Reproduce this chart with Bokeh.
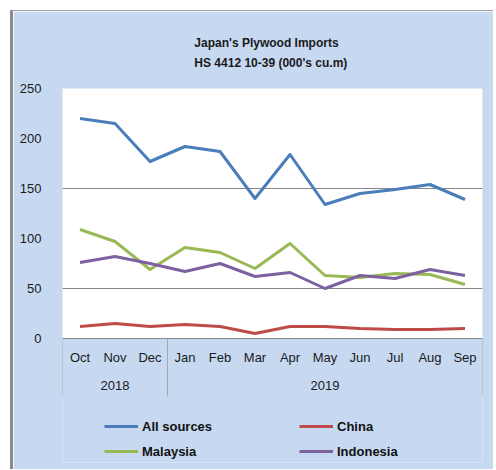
from bokeh.plotting import figure
from bokeh.models import (Range1d, FixedTicker, BoxAnnotation, Legend, LegendItem,
                          ColumnDataSource)
from bokeh.core.properties import value
from bokeh.embed import file_html
from bokeh.resources import INLINE

# ---- data ----
months = ["Oct", "Nov", "Dec", "Jan", "Feb", "Mar", "Apr", "May", "Jun", "Jul", "Aug", "Sep"]
years = ["2018"] * 3 + ["2019"] * 9
all_sources = [220, 215, 177, 192, 187, 140, 184, 134, 145, 149, 154, 139]
china = [12, 15, 12, 14, 12, 5, 12, 12, 10, 9, 9, 10]
malaysia = [109, 97, 69, 91, 86, 70, 95, 63, 61, 65, 64, 54]
indonesia = [76, 82, 75, 67, 75, 62, 66, 50, 63, 60, 69, 63]
y_ticks = [0, 50, 100, 150, 200, 250]
grid_ticks = [0, 50, 150, 250]

title_text = "Japan's Plywood Imports\nHS 4412 10-39  (000's cu.m)"

# ---- styles ----
BG = "#C6D9F1"
FONT = "Liberation Sans"
MONTH_Y = -19
YEAR_Y = -47
SEP_BOTTOM = -58

x = [i + 0.5 for i in range(len(months))]
src = ColumnDataSource(dict(x=x, months=months, all_sources=all_sources, china=china,
                            malaysia=malaysia, indonesia=indonesia))

p = figure(width=483, height=459, output_backend="svg", toolbar_location=None,
           x_range=Range1d(0, len(months)), y_range=Range1d(-124, y_ticks[-1]),
           x_axis_location=None, title=title_text,
           min_border_left=49, min_border_right=14, min_border_top=77, min_border_bottom=8)
p.styles = {"margin-left": "10px", "margin-top": "10px",
            "border-left": "3px solid #8a8a8a", "border-top": "1px solid #a0a0a0"}
p.background_fill_color = BG
p.border_fill_color = BG
p.outline_line_color = None

p.title.align = "center"
p.title.vertical_align = "top"
p.title.text_font = FONT
p.title.text_font_size = "12px"
p.title.text_font_style = "bold"
p.title.text_color = "#1a1a1a"
p.title.text_line_height = 1.45
p.title.standoff = 33
p.title.offset = -27

# white plotting area above zero
p.add_layout(BoxAnnotation(bottom=y_ticks[0], fill_color="white", fill_alpha=1,
                           line_color=None, level="image"))

p.xgrid.visible = False
p.ygrid.ticker = FixedTicker(ticks=grid_ticks)
p.ygrid.grid_line_color = "#868686"
p.ygrid.grid_line_width = 1

p.yaxis.ticker = FixedTicker(ticks=y_ticks)
p.yaxis.axis_line_color = None
p.yaxis.major_tick_line_color = None
p.yaxis.minor_tick_line_color = None
p.yaxis.major_label_standoff = 15
p.yaxis.major_label_text_font = FONT
p.yaxis.major_label_text_font_size = "13px"
p.yaxis.major_label_text_color = "#1a1a1a"

r_all = p.line("x", "all_sources", source=src, color="#4A7EBB", line_width=3, line_join="round")
r_chn = p.line("x", "china", source=src, color="#BE4B48", line_width=3, line_join="round")
r_mal = p.line("x", "malaysia", source=src, color="#98B954", line_width=3, line_join="round")
r_ind = p.line("x", "indonesia", source=src, color="#7D60A0", line_width=3, line_join="round")

# category labels (months)
p.text(x=x, y=[MONTH_Y] * len(months), text=months, text_align="center",
       text_baseline="middle", text_font=value(FONT), text_font_size="13px",
       text_color="#1a1a1a")

# year groups
groups = []
for i, yr in enumerate(years):
    if not groups or groups[-1][0] != yr:
        groups.append([yr, i, i + 1])
    else:
        groups[-1][2] = i + 1
p.text(x=[(g[1] + g[2]) / 2 for g in groups], y=[YEAR_Y] * len(groups),
       text=[g[0] for g in groups], text_align="center", text_baseline="middle",
       text_font=value(FONT), text_font_size="13px", text_color="#1a1a1a")
bounds = [groups[0][1]] + [g[2] for g in groups]
p.segment(x0=bounds, y0=[0] * len(bounds), x1=bounds, y1=[SEP_BOTTOM] * len(bounds),
          line_color="#a6a6a6", line_width=1)

def make_legend(items, loc):
    lg = Legend(items=items, location=loc, orientation="vertical")
    lg.background_fill_alpha = 0
    lg.border_line_color = None
    lg.padding = 0
    lg.margin = 0
    lg.spacing = 5
    lg.glyph_width = 34
    lg.glyph_height = 20
    lg.label_height = 20
    lg.label_standoff = 4
    lg.label_text_font = FONT
    lg.label_text_font_size = "13px"
    lg.label_text_font_style = "bold"
    lg.label_text_color = "#111111"
    return lg

p.add_layout(make_legend([LegendItem(label="All sources", renderers=[r_all]),
                          LegendItem(label="Malaysia", renderers=[r_mal])], (42, 1)))
p.add_layout(make_legend([LegendItem(label="China", renderers=[r_chn]),
                          LegendItem(label="Indonesia", renderers=[r_ind])], (237, 1)))

open("out.html", "w").write(file_html(p, INLINE, title="Japan's Plywood Imports"))
